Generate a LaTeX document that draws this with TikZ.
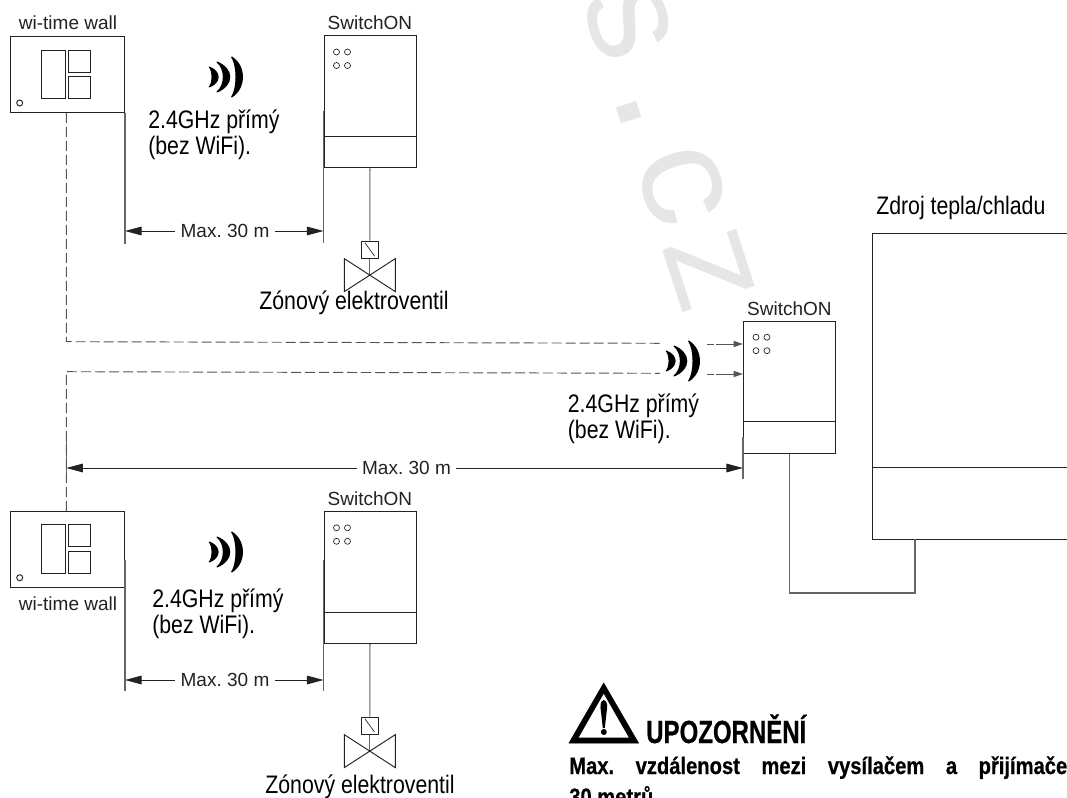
\documentclass[tikz,border=0pt]{standalone}
\usepackage{fontspec}
\setmainfont{Liberation Sans}
\newfontfamily\narrowfont[FakeStretch=.84]{Liberation Sans}
\newfontfamily\heavyfont[FakeStretch=.75,FakeBold=.6]{Liberation Sans Bold}
\newfontfamily\bodyfont[FakeStretch=.85,FakeBold=.6]{Liberation Sans Bold}
\newfontfamily\markfont{Liberation Mono}
\usetikzlibrary{positioning, arrows.meta, calc}
\definecolor{inkdark}{HTML}{222222}
\definecolor{inkgrey}{HTML}{666666}
\definecolor{inkdash}{HTML}{555555}
\definecolor{marklight}{HTML}{E6E6E6}

\tikzset{
  unitbox/.style={draw=inkdark, line width=.7pt, rectangle, inner sep=0pt, anchor=north west},
  wallbox/.style={unitbox, minimum width=85.3pt, minimum height=56.8pt},
  switchbox/.style={unitbox, minimum width=69pt, minimum height=99pt},
  thinline/.style={draw=inkdark, line width=.7pt},
  wireline/.style={draw=inkgrey, line width=.8pt},
  dashline/.style={draw=inkdash, line width=.7pt, dash pattern=on 7.5pt off 3pt},
  dimarrow/.style={draw=inkdark, line width=.7pt, -{Triangle[length=12.5pt,width=6.5pt]}},
  sigarrow/.style={draw=inkdash, line width=.7pt, dash pattern=on 5pt off 2pt on 20pt, -{Triangle[length=7pt,width=4.5pt]}},
  smalltext/.style={font=\fontsize{14.25}{16}\selectfont, text=inkdark, inner sep=0pt},
  dimtext/.style={smalltext, inner xsep=4pt},
  bigtext/.style={font=\narrowfont\fontsize{19}{19.5}\selectfont, inner sep=0pt, align=left},
  warnbody/.style={font=\bodyfont\fontsize{17.8}{20}\selectfont, inner sep=0pt, anchor=base west},
  radiosign/.pic={
    \filldraw[black, line width=.8pt, line join=round]
      (-15.7,-10) .. controls (-4,-5.5) and (-4,5.5) .. (-15.7,10)
                  .. controls (-12,5.5) and (-12,-5.5) .. cycle
      (-8,-15) .. controls (9,-8) and (9,8) .. (-8,15)
               .. controls (0.5,8) and (0.5,-8) .. cycle
      (6.7,-20) .. controls (21,-11) and (21,11) .. (6.7,20)
                .. controls (12.5,11) and (12.5,-11) .. cycle;
  }
}

\newcommand{\walldraw}[3]{%
  \node[wallbox] (#1) at (#2,#3) {};
  \draw[thinline] (#1.north west) ++(31.4,13.7) rectangle ++(24,48.3);
  \draw[thinline] (#1.north west) ++(58.4,13.7) rectangle ++(22,22);
  \draw[thinline] (#1.north west) ++(58.4,40) rectangle ++(22,22);
  \draw[thinline] (#1.north west) ++(9.4,66.7) circle[radius=3];
}
\newcommand{\switchdraw}[3]{%
  \node[switchbox] (#1) at (#2,#3) {};
  \draw[thinline] (#1.north west) ++(0,101) -- ++(92,0);
  \foreach \dx/\dy in {13/16.5, 24/16.5, 13/30, 24/30}
    \draw[thinline, line width=.5pt] (#1.north west) ++(\dx,\dy) circle[radius=3];
  \node[smalltext, anchor=base] (#1text) at ($(#1.north)+(0,-5.5)$) {SwitchON};
}
\newcommand{\valvedraw}[2]{%
  \node[unitbox, minimum size=12.75pt, anchor=north] (#1) at (#2) {};
  \draw[thinline, line width=.5pt] (#1.north west) ++(4,2) -- ++(9.7,13.4);
  \coordinate (#1mid) at ($(#1.south)+(0,16.5)$);
  \draw[wireline, line width=.5pt] (#1.south) -- (#1mid);
  \draw[thinline] (#1mid) -- ++(-25.5,-16.5) -- ++(0,33) -- (#1mid)
                  -- ++(25.5,-16.5) -- ++(0,33) -- cycle;
}

\begin{document}
\frenchspacing
\begin{tikzpicture}[x=.75pt, y=-.75pt]
  \useasboundingbox (0,0) rectangle (1067,798);
  \fill[white] (0,0) rectangle (1067,798);

  \node[font=\markfont\fontsize{109}{109}\selectfont, text=marklight, rotate=-72, inner sep=0pt]
    (mark) at (669,146) {s.cz};

  \walldraw{wallone}{10.3}{36.3}
  \switchdraw{switchone}{323.5}{35.5}
  \node[smalltext, anchor=base] (walloneText) at (68,30) {wi-time wall};
  \pic at (225,77) {radiosign};
  \node[bigtext, anchor=north west] (radioone) at (148,109.5) {2.4GHz přímý\\(bez WiFi).};

  \walldraw{walltwo}{10.3}{511}
  \switchdraw{switchtwo}{323.5}{511.3}
  \node[smalltext, anchor=base] (walltwoText) at (68,610) {wi-time wall};
  \pic at (225,552) {radiosign};
  \node[bigtext, anchor=north west] (radiotwo) at (152,588.2) {2.4GHz přímý\\(bez WiFi).};

  \switchdraw{switchmain}{743}{320.7}
  \pic at (682,361) {radiosign};
  \node[bigtext, anchor=north west] (radiomain) at (567.6,393.2) {2.4GHz přímý\\(bez WiFi).};

  \coordinate (valveonetop) at (369.8,240.7);
  \coordinate (valvetwotop) at (369.8,716.7);
  \valvedraw{valveone}{valveonetop}
  \valvedraw{valvetwo}{valvetwotop}
  \draw[wireline] (switchone.south) -- (valveone.north);
  \draw[wireline] (switchtwo.south) -- (valvetwo.north);
  \node[bigtext, anchor=base] (zoneone) at (354,310) {Zónový elektroventil};
  \node[bigtext, anchor=base] (zonetwo) at (360,793) {Zónový elektroventil};

  \draw[wireline] (wallone.south east) -- ++(0,131);
  \draw[wireline] ($(switchone.north west)+(0,75.5)$) -- ++(0,132);
  \node[dimtext] (dimone) at (225,231) {Max. 30 m};
  \draw[dimarrow] (dimone.west) -- (dimone.west -| wallone.east);
  \draw[dimarrow] (dimone.east) -- (dimone.east -| switchone.west);

  \draw[wireline] ($(walltwo.north east)+(0,49)$) -- ++(0,131);
  \draw[wireline] ($(switchtwo.north west)+(0,48.7)$) -- ++(0,131);
  \node[dimtext] (dimtwo) at (225,680) {Max. 30 m};
  \draw[dimarrow] (dimtwo.west) -- (dimtwo.west -| walltwo.east);
  \draw[dimarrow] (dimtwo.east) -- (dimtwo.east -| switchtwo.west);

  \coordinate (leftend) at (66.3,468);
  \draw[wireline] (66.3,435) -- (66.3,480);
  \draw[wireline] (743,436.7) -- (743,479.3);
  \node[dimtext] (dimmain) at (406.5,468) {Max. 30 m};
  \draw[dimarrow] (dimmain.west) -- (leftend);
  \draw[dimarrow] (dimmain.east) -- (dimmain.east -| switchmain.west);

  \coordinate (dashone) at (660,343.3);
  \coordinate (dashtwo) at (660,373.3);
  \draw[dashline] (walltwo.north -| leftend) -- (66.3,371.7) -- (dashtwo);
  \draw[dashline] (wallone.south -| leftend) -- (66.3,341.7) -- (dashone);
  \coordinate (sigone) at (707,344);
  \coordinate (sigtwo) at (707,374);
  \draw[sigarrow] (sigone) -- (sigone -| switchmain.west);
  \draw[sigarrow] (sigtwo) -- (sigtwo -| switchmain.west);

  \coordinate (heatnw) at (872.4,233);
  \coordinate (heatsw) at (872.4,539);
  \coordinate (heatmid) at (872.4,467);
  \draw[thinline] (1067,233) -- (heatnw) -- (heatsw) -- (1067,539);
  \draw[thinline] (heatmid) -- (1067,467);
  \node[bigtext, anchor=base west] (heattext) at (876,215) {Zdroj tepla/chladu};
  \coordinate (heatwire) at (915,539);
  \draw[wireline] (switchmain.south) |- (915,593) -- (heatwire);

  \filldraw[black, even odd rule]
    (603.7,683) -- (638.5,743) -- (569,743) -- cycle
    (603.7,693) -- (578,738) -- (629.5,738) -- cycle;
  \fill[black] (603.8,700) .. controls (600,701) and (600,706) .. (601,712) -- (602.8,728)
    -- (604.8,728) -- (606.6,712) .. controls (607.6,706) and (607.6,701) .. (603.8,700);
  \fill[black] (603.8,732) circle[radius=3];
  \node[warnbody, font=\heavyfont\fontsize{24}{28}\selectfont]
    (warnhead) at (646,743) {UPOZORNĚNÍ};
  \node[warnbody] (warnline) at (569,774)
    {\makebox[373.5pt][s]{Max. vzdálenost mezi vysílačem a přijímače}};
  \node[warnbody] (warnrest) at (569,805) {30 metrů};
\end{tikzpicture}
\end{document}
